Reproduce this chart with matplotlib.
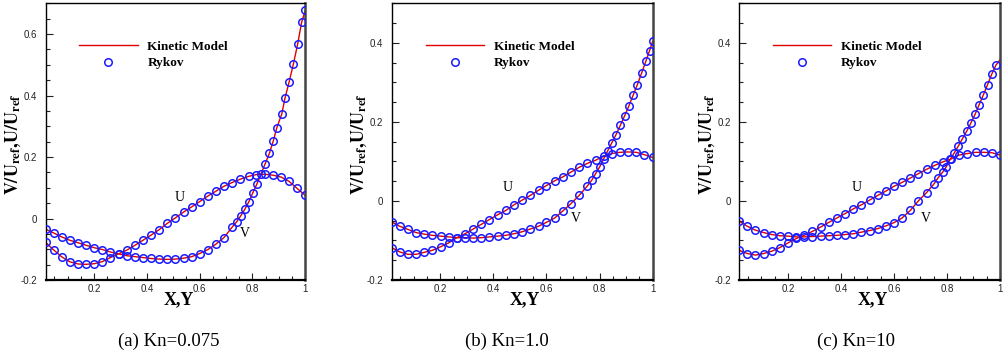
import matplotlib
matplotlib.use("Agg")
import matplotlib.pyplot as plt
from matplotlib.ticker import FixedLocator, FixedFormatter, MultipleLocator

plt.rcParams['mathtext.fontset'] = 'stix'

# ---------------- data ----------------
x_grid = [0.017, 0.047, 0.078, 0.109, 0.140, 0.170, 0.201, 0.232, 0.262, 0.293,
          0.324, 0.355, 0.385, 0.416, 0.447, 0.477, 0.508, 0.539, 0.570, 0.600,
          0.631, 0.662, 0.692, 0.723, 0.754, 0.785, 0.815, 0.846, 0.877, 0.908,
          0.938, 0.969, 1.000]

# (a) Kn=0.075
u_a = [-0.078, -0.102, -0.125, -0.141, -0.148, -0.149, -0.147, -0.140, -0.127, -0.115,
       -0.103, -0.087, -0.071, -0.054, -0.036, -0.016, 0.002, 0.021, 0.038, 0.055,
       0.073, 0.089, 0.105, 0.117, 0.128, 0.137, 0.143, 0.144, 0.141, 0.135,
       0.121, 0.098, 0.075]
xv_a = x_grid[:23] + [0.724, 0.740, 0.755, 0.771, 0.786, 0.801, 0.816, 0.832, 0.847,
                      0.864, 0.879, 0.892, 0.911, 0.923, 0.939, 0.955, 0.971, 0.986, 1.000]
v_a = [-0.035, -0.047, -0.060, -0.071, -0.079, -0.087, -0.095, -0.101, -0.109, -0.115,
       -0.121, -0.124, -0.127, -0.130, -0.132, -0.133, -0.132, -0.129, -0.124, -0.114,
       -0.101, -0.083, -0.062,
       -0.027, -0.011, 0.008, 0.030, 0.054, 0.083, 0.111, 0.144, 0.176,
       0.212, 0.253, 0.295, 0.340, 0.391, 0.445, 0.503, 0.567, 0.638, 0.677]

# (b) Kn=1.0
u_b = [-0.118, -0.129, -0.135, -0.135, -0.130, -0.125, -0.116, -0.106, -0.093, -0.083,
       -0.071, -0.059, -0.047, -0.035, -0.024, -0.010, 0.002, 0.014, 0.027, 0.039,
       0.051, 0.061, 0.073, 0.085, 0.095, 0.103, 0.113, 0.120, 0.123, 0.124,
       0.123, 0.117, 0.110]
xv_b = x_grid[:25] + [0.770, 0.785, 0.801, 0.815, 0.830, 0.846, 0.862, 0.878, 0.894,
                      0.910, 0.926, 0.942, 0.958, 0.974, 0.988, 1.000]
v_b = [-0.053, -0.064, -0.072, -0.080, -0.084, -0.087, -0.089, -0.091, -0.093, -0.093,
       -0.094, -0.093, -0.091, -0.089, -0.087, -0.083, -0.078, -0.071, -0.064, -0.054,
       -0.043, -0.025, -0.007, 0.014, 0.038,
       0.052, 0.069, 0.087, 0.106, 0.126, 0.147, 0.168, 0.191, 0.215,
       0.240, 0.267, 0.294, 0.323, 0.353, 0.380, 0.404]

# (c) Kn=10
u_c = [-0.125, -0.133, -0.137, -0.133, -0.127, -0.118, -0.106, -0.095, -0.087, -0.077,
       -0.066, -0.054, -0.043, -0.032, -0.020, -0.010, 0.002, 0.014, 0.025, 0.037,
       0.047, 0.058, 0.069, 0.080, 0.090, 0.099, 0.106, 0.116, 0.120, 0.123,
       0.123, 0.122, 0.116]
xv_c = x_grid[:23] + [0.723, 0.752, 0.767, 0.784, 0.797, 0.812, 0.827, 0.843, 0.858,
                      0.874, 0.890, 0.906, 0.921, 0.937, 0.953, 0.969, 0.985]
v_c = [-0.051, -0.064, -0.074, -0.080, -0.085, -0.088, -0.089, -0.091, -0.091, -0.090,
       -0.089, -0.088, -0.087, -0.085, -0.083, -0.079, -0.075, -0.070, -0.063, -0.055,
       -0.043, -0.024, 0.000,
       0.021, 0.044, 0.059, 0.073, 0.086, 0.105, 0.121, 0.139, 0.157, 0.176,
       0.197, 0.219, 0.243, 0.268, 0.294, 0.321, 0.344]
xv_c_line = xv_c + [1.000]
v_c_line = v_c + [0.357]

captions = ["(a) Kn=0.075", "(b) Kn=1.0", "(c) Kn=10"]
x_ticks = [0.2, 0.4, 0.6, 0.8, 1.0]
x_ticklabels = ["0.2", "0.4", "0.6", "0.8", "1"]
y_ticks_a = [-0.2, 0.0, 0.2, 0.4, 0.6]
y_ticklabels_a = ["-0.2", "0", "0.2", "0.4", "0.6"]
y_ticks_bc = [-0.2, 0.0, 0.2, 0.4]
y_ticklabels_bc = ["-0.2", "0", "0.2", "0.4"]
ylims = [(-0.2, 0.7), (-0.2, 0.5), (-0.2, 0.5)]
u_label_pos = [(0.526, 0.069), (0.454, 0.033), (0.461, 0.033)]
v_label_pos = [(0.772, -0.048), (0.711, -0.044), (0.722, -0.044)]

panels = [
    dict(xu=x_grid, u=u_a, xv=xv_a, v=v_a, xvl=xv_a, vl=v_a,
         yt=y_ticks_a, ytl=y_ticklabels_a),
    dict(xu=x_grid, u=u_b, xv=xv_b, v=v_b, xvl=xv_b, vl=v_b,
         yt=y_ticks_bc, ytl=y_ticklabels_bc),
    dict(xu=x_grid, u=u_c, xv=xv_c, v=v_c, xvl=xv_c_line, vl=v_c_line,
         yt=y_ticks_bc, ytl=y_ticklabels_bc),
]

# ---------------- figure ----------------
W, H = 1005, 358
fig = plt.figure(figsize=(W / 100, H / 100), dpi=100)

ax_px = [(45.7, 305.3), (391.7, 652.7), (739.3, 1000.0)]
top_px, bot_px = 3.3, 280.0
cap_x = [169, 507, 856]

red = '#e00000'
blue = '#1a1aff'
serif = 'Liberation Serif'
sans = 'Liberation Sans'

for i, p in enumerate(panels):
    l, r = ax_px[i]
    ax = fig.add_axes([l / W, (H - bot_px) / H, (r - l) / W, (bot_px - top_px) / H])
    ax.plot(p['xu'], p['u'], color=red, lw=1.0, label='Kinetic Model', zorder=2)
    ax.plot(p['xvl'], p['vl'], color=red, lw=1.0, zorder=2)
    ax.plot(p['xu'], p['u'], ls='none', marker='o', ms=5.4, mfc='none', mec=blue,
            mew=1.1, label='Rykov', zorder=3)
    ax.plot(p['xv'], p['v'], ls='none', marker='o', ms=5.4, mfc='none', mec=blue,
            mew=1.1, zorder=3)

    ax.set_xlim(0.017, 1.0)
    ax.set_ylim(*ylims[i])
    ax.xaxis.set_major_locator(FixedLocator(x_ticks))
    ax.xaxis.set_major_formatter(FixedFormatter(x_ticklabels))
    ax.yaxis.set_major_locator(FixedLocator(p['yt']))
    ax.yaxis.set_major_formatter(FixedFormatter(p['ytl']))
    ax.xaxis.set_minor_locator(MultipleLocator(0.05))
    ax.yaxis.set_minor_locator(MultipleLocator(0.05))
    ax.tick_params(which='both', direction='in', top=False, right=False,
                   width=0.8, colors='#222222')
    ax.tick_params(which='major', length=5)
    ax.tick_params(which='minor', length=3)
    ax.tick_params(axis='y', pad=6.0, labelsize=7)
    ax.tick_params(axis='x', pad=3.0, labelsize=7)
    for lab in ax.get_xticklabels() + ax.get_yticklabels():
        lab.set_fontfamily(sans)
    ax.spines['left'].set_linewidth(1.0)
    ax.spines['top'].set_linewidth(1.0)
    ax.spines['bottom'].set_linewidth(1.6)
    ax.spines['right'].set_linewidth(1.8)
    ax.spines['right'].set_color('#444444')

    ax.text(*u_label_pos[i], 'U', fontfamily=serif, fontsize=10, ha='center', va='center')
    ax.text(*v_label_pos[i], 'V', fontfamily=serif, fontsize=10, ha='center', va='center')

    ax.legend(loc='upper left', bbox_to_anchor=(0.13, 0.866), frameon=False,
              borderpad=0, borderaxespad=0, handlelength=4.4, handletextpad=0.75,
              labelspacing=0.35,
              prop={'family': serif, 'weight': 'bold', 'size': 9.5})

    ax.text(0.512, -0.072, 'X,Y', transform=ax.transAxes, fontfamily=serif,
            fontweight='bold', fontsize=13, ha='center', va='center')
    ax.text(-0.125, 0.49, r'$\mathbf{V/U_{ref}{,}U/U_{ref}}$', transform=ax.transAxes,
            fontsize=13, rotation=90, ha='center', va='center')

    fig.text(cap_x[i] / W, (H - 341) / H, captions[i], fontfamily=serif,
             fontsize=13.5, ha='center', va='center')

fig.savefig('out.png', dpi=100)
